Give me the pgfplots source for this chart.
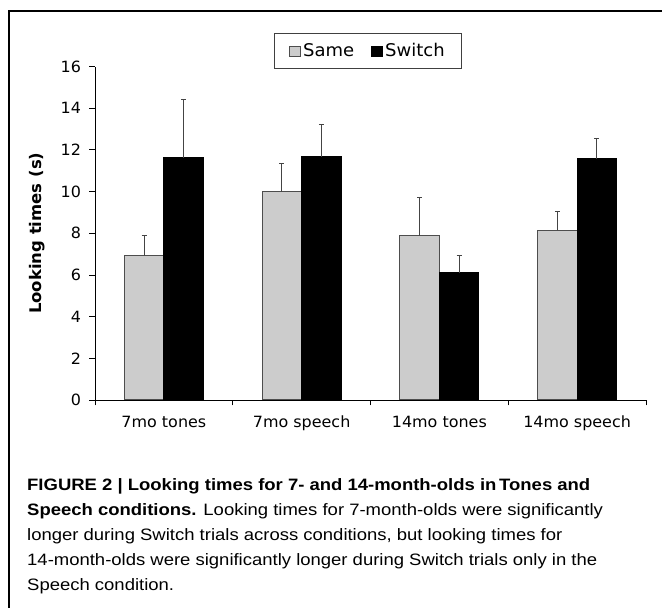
\documentclass[border=0pt]{standalone}
\usepackage{fontspec}
\setmainfont{DejaVu Sans}[FakeStretch=1.03]
\newfontfamily\capfont{Liberation Sans}[FakeStretch=1.12]
\usepackage{pgfplots}
\pgfplotsset{compat=1.18}
\definecolor{samegray}{HTML}{CCCCCC}
\definecolor{edgegray}{HTML}{4D4D4D}
\definecolor{errgray}{HTML}{444444}
\begin{document}
\begin{tikzpicture}
\path[use as bounding box] (0pt,0pt) rectangle (662pt,608pt);
\draw[line width=1.4pt] (9pt,-1pt) -- (9pt,597pt) -- (663pt,597pt);
\begin{axis}[
  at={(95pt,208pt)}, anchor=south west,
  scale only axis, width=551pt, height=333.4pt,
  xmin=0, xmax=4, ymin=0, ymax=16,
  axis x line=bottom, axis y line=left,
  axis line style={-, line width=0.9pt},
  every tick/.style={black, line width=0.9pt},
  tick align=outside,
  ytick={0,2,...,16},
  major tick length=5.5pt,
  xtick={0,1,2,3,4}, xticklabels={},
  extra x ticks={0.5,1.5,2.5,3.5},
  extra x tick labels={7mo tones,7mo speech,14mo tones,14mo speech},
  extra x tick style={major tick length=0pt, tick label style={anchor=base, yshift=-28pt}},
  /pgf/number format/assume math mode=true,
  yticklabel style={font=\fontsize{15.5}{18}\selectfont, xshift=-5pt},
  xticklabel style={font=\fontsize{15.5}{18}\selectfont},
  ylabel={Looking times (s)},
  ylabel style={font=\bfseries\fontsize{16}{19}\selectfont, at={(rel axis cs:-0.1053,0.5)}, anchor=center},
  ybar=0pt, bar width=39.5pt,
  legend columns=2,
  legend style={at={(0.4955,1.0468)}, anchor=center, draw=black!75, line width=1pt,
    font=\fontsize{17.5}{20}\selectfont, inner xsep=15pt, inner ysep=8.5pt,
    /tikz/every even column/.append style={column sep=15pt}},
  error bars/y dir=plus, error bars/y explicit,
  error bars/error bar style={errgray, line width=1.1pt},
  error bars/error mark options={rotate=90, mark size=2.6pt, line width=1.1pt, errgray},
]
\addplot[fill=samegray, draw=edgegray, line width=1.1pt,
  legend image code/.code={\draw[fill=samegray, draw=edgegray, line width=0.8pt] (0pt,-5pt) rectangle (11pt,5pt);}]
  coordinates {(0.5,6.92) +- (0,0.99) (1.5,9.99) +- (0,1.36) (2.5,7.88) +- (0,1.84) (3.5,8.15) +- (0,0.88)};
\addplot[fill=black, draw=black, line width=1.1pt,
  legend image code/.code={\draw[fill=black, draw=black, line width=0.8pt] (0pt,-5pt) rectangle (11pt,5pt);}]
  coordinates {(0.5,11.62) +- (0,2.80) (1.5,11.67) +- (0,1.55) (2.5,6.11) +- (0,0.81) (3.5,11.57) +- (0,1.00)};
\legend{Same,Switch}
\end{axis}
\begin{scope}[every node/.style={anchor=base west, inner sep=0pt, font=\capfont\fontsize{16.5}{20}\selectfont}]
\node at (27pt,117pt) {\bfseries FIGURE 2 | Looking times for 7- and 14-month-olds in\,Tones and};
\node at (27pt,92pt) {{\bfseries Speech conditions.} Looking times for 7-month-olds were significantly};
\node at (27pt,67pt) {longer during Switch trials across conditions, but looking times for};
\node at (27pt,42pt) {14-month-olds were significantly longer during Switch trials only in the};
\node at (27pt,17pt) {Speech condition.};
\end{scope}
\end{tikzpicture}
\end{document}
